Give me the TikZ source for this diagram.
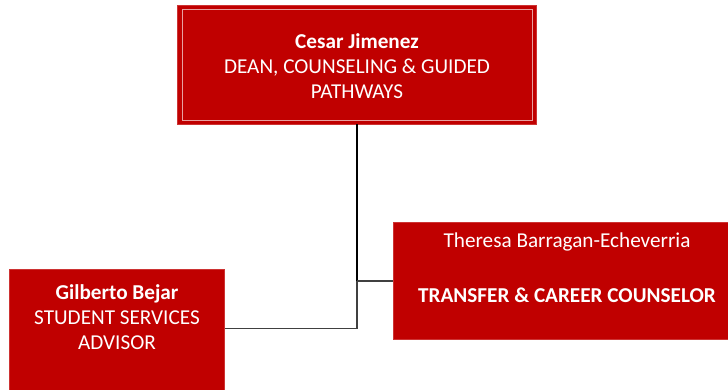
\documentclass[tikz,border=0pt]{standalone}
\usepackage{fontspec}
\setmainfont{Carlito}
\definecolor{boxred}{HTML}{C00000}
\definecolor{linegray}{HTML}{404040}
\definecolor{innerpink}{HTML}{E8A0A0}
\begin{document}
\begin{tikzpicture}[x=1pt,y=-1pt,
  box/.style={fill=boxred,draw=boxred!80!white,line width=0.6pt,inner sep=0pt},
  txt/.style={text=white,align=center,font=\fontsize{21.2}{25}\selectfont},
  conn/.style={draw=linegray,line width=1.8pt}]
\useasboundingbox (0,0) rectangle (728,389);
\begin{scope}
\clip (0,0) rectangle (728,389);
% boxes
\node[box,minimum width=359pt,minimum height=119pt] (dean) at (356.5,64.5) {};
\draw[innerpink,line width=0.8pt] (182,9.5) rectangle (532,120);
\node[box,minimum width=215pt,minimum height=124pt] (gil) at (117,331) {};
\node[box,minimum width=348pt,minimum height=117pt] (ther) at (567,280.5) {};
% texts
\node[txt] (deant) at (357,66) {\textbf{Cesar Jimenez}\\DEAN, COUNSELING \& GUIDED\\PATHWAYS};
\node[txt] (gilt) at (117,317) {\textbf{Gilberto Bejar}\\STUDENT SERVICES\\ADVISOR};
\node[txt] (thert1) at (567,242) {Theresa Barragan-Echeverria};
\node[txt] (thert2) at (567,295) {\textbf{TRANSFER \& CAREER COUNSELOR}};
% connectors
\coordinate (j1) at (357,281);
\coordinate (j2) at (357,328.5);
\draw[conn,draw=black] (dean.south -| j1) -- (j1);
\draw[conn] (j1) -- (j2) -- (j2 -| gil.east);
\draw[conn] (j1) -- (j1 -| ther.west);
\end{scope}
\end{tikzpicture}
\end{document}
